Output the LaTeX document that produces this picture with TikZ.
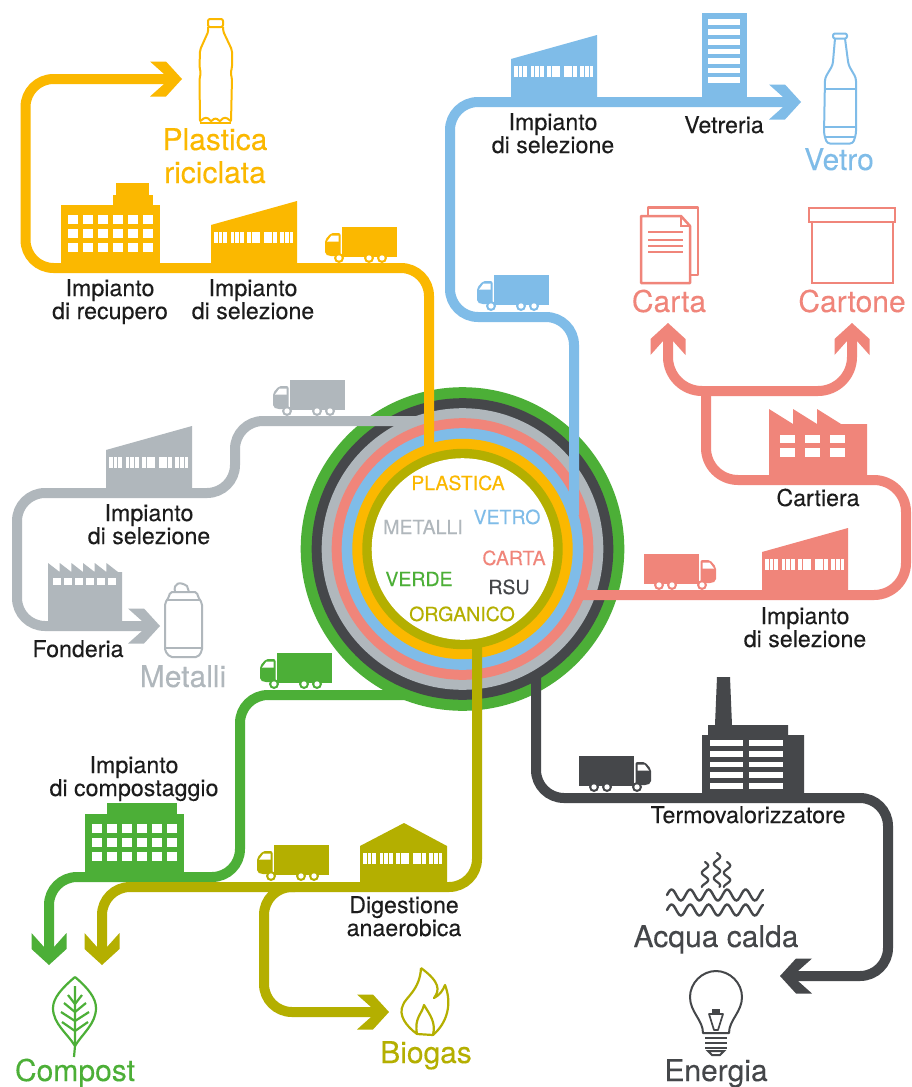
\documentclass[tikz,border=0pt]{standalone}
\usepackage{fontspec}
\setmainfont{TeX Gyre Heros}[FakeBold=0.15]
\usetikzlibrary{arrows.meta}
\definecolor{cyel}{HTML}{FBB800}
\definecolor{cblu}{HTML}{7FBCE8}
\definecolor{csal}{HTML}{F0857A}
\definecolor{cgra}{HTML}{B0B7BC}
\definecolor{cdar}{HTML}{45474A}
\definecolor{cgre}{HTML}{4CAF37}
\definecolor{coli}{HTML}{B4AF00}
\definecolor{ctxt}{HTML}{1C1C1C}
\pgfdeclarearrow{
  name=Chevron,
  setup code={\pgfarrowssettipend{0pt}\pgfarrowssetlineend{-16pt}\pgfarrowssetvisualbackend{-32pt}\pgfarrowssetbackend{-32pt}},
  drawing code={%
    \pgfpathmoveto{\pgfqpoint{0pt}{0pt}}%
    \pgfpathlineto{\pgfqpoint{-16pt}{17.5pt}}%
    \pgfpathlineto{\pgfqpoint{-32pt}{17.5pt}}%
    \pgfpathlineto{\pgfqpoint{-18pt}{5pt}}%
    \pgfpathlineto{\pgfqpoint{-18pt}{-5pt}}%
    \pgfpathlineto{\pgfqpoint{-32pt}{-17.5pt}}%
    \pgfpathlineto{\pgfqpoint{-16pt}{-17.5pt}}%
    \pgfpathclose\pgfusepathqfill}
}
\tikzset{
  flow/.style={line width=10pt, rounded corners=28pt},
  lab/.style={font=\fontsize{23.2}{21}\selectfont, text=ctxt, align=center, anchor=base, inner sep=0pt},
  big/.style={font=\fontsize{30}{33}\selectfont, align=center, anchor=base, inner sep=0pt},
  tag/.style={font=\fontsize{19.5}{20}\selectfont, anchor=base, inner sep=0pt},
  icon/.style={line width=2pt, line join=round, rounded corners=2pt},
  pics/truck/.style={code={
    \fill (17,-30) rectangle (72,-2);
    \fill (13,-2) rectangle (72,-0.4);
    \fill[rounded corners=2pt] (15.5,-24) -- (6,-24) -- (0,-17) -- (0,-3) -- (4,-1) -- (15.5,-1) -- cycle;
    \fill[white] (13.5,-21.5) -- (6.5,-21.5) -- (2,-15.5) -- (13.5,-15.5) -- cycle;
    \foreach \w in {14,44,57}{
      \fill (\w,1) circle (5pt);
      \fill[white] (\w,1) circle (2.7pt);
    }
  }},
  pics/shedwin/.style={code={
    \foreach \g in {0,1,2,3,4}{
      \foreach \b in {0,4.6,9.2}{
        \fill[white] ({3+16.6*\g+\b},-36) rectangle ({3+16.6*\g+\b+3.8},-25);
      }
    }
  }},
  pics/shed/.style={code={
    \fill (0,0) -- (0,-43) -- (86,-67) -- (86,0) -- cycle;
    \pic at (0,0) {shedwin};
  }},
  pics/gable/.style={code={
    \fill (0,0) -- (0,-41) -- (44,-64) -- (87,-41) -- (87,0) -- cycle;
    \pic at (0,2) {shedwin};
  }},
  pics/block/.style n args={5}{code={
    \fill (0,0) rectangle (99,-63.5);
    \fill (#1,-63) rectangle (#2,-73);
    \fill (#3,-72) rectangle (#4,-#5);
    \foreach \c in {7,22,37,52,66.7,81.5}{
      \foreach \r in {53.5,39.2,25}{
        \fill[white] (\c,-\r) rectangle (\c+10,{-\r+9.2});
      }
    }
  }},
}
\begin{document}
\begin{tikzpicture}[x=1pt,y=-1pt]
\useasboundingbox (0,0) rectangle (911,1087);
\fill[white] (0,0) rectangle (911,1087);
% hub rings
\coordinate (hub) at (462.5,549);
\fill[cgre] (hub) circle (161.8pt);
\fill[cdar] (hub) circle (150.8pt);
\fill[cgra] (hub) circle (140.8pt);
\fill[csal] (hub) circle (130.8pt);
\fill[cblu] (hub) circle (120.8pt);
\fill[cyel] (hub) circle (110.2pt);
\fill[coli] (hub) circle (100.2pt);
\fill[white] (hub) circle (90.8pt);
% connector way-points
\coordinate (y0) at (429,446); \coordinate (y1) at (429,268); \coordinate (y2) at (25.5,268); \coordinate (y3) at (25.5,79); \coordinate (y4) at (182,79);
\coordinate (b0) at (574,515); \coordinate (b1) at (574,317); \coordinate (b2) at (450,317); \coordinate (b3) at (450,102); \coordinate (b4) at (801,102);
\coordinate (g0) at (417,421); \coordinate (g1) at (235,421); \coordinate (g2) at (235,493); \coordinate (g3) at (17,493); \coordinate (g4) at (17,626); \coordinate (g5) at (160,626);
\coordinate (s0) at (580,595); \coordinate (s1) at (906,595); \coordinate (s2) at (906,480); \coordinate (s3) at (706,480); \coordinate (s4) at (706,391);
\coordinate (s5) at (668,391); \coordinate (s6) at (668,323); \coordinate (s7) at (852,391); \coordinate (s8) at (852,323);
\coordinate (d0) at (536,675); \coordinate (d1) at (536,798); \coordinate (d2) at (888,798); \coordinate (d3) at (888,976); \coordinate (d4) at (780,976);
\coordinate (v0) at (408,695); \coordinate (v1) at (240,695); \coordinate (v2) at (240,877); \coordinate (v3) at (49,877); \coordinate (v4) at (49,965);
\coordinate (o0) at (477,643); \coordinate (o1) at (477,887); \coordinate (o2) at (102,887); \coordinate (o3) at (102,965);
\coordinate (o4) at (295,887); \coordinate (o5) at (264,887); \coordinate (o6) at (264,1012); \coordinate (o7) at (389,1012);
% connectors
\draw[flow,cdar,-{Chevron}] (d0) -- (d1) -- (d2) -- (d3) -- (d4);
\draw[flow,cgre,-{Chevron}] (v0) -- (v1) -- (v2) -- (v3) -- (v4);
\draw[flow,coli,-{Chevron}] (o0) -- (o1) -- (o2) -- (o3);
\draw[flow,coli,-{Chevron}] (o4) -- (o5) -- (o6) -- (o7);
\draw[flow,cgra,-{Chevron}] (g0) -- (g1) -- (g2) -- (g3) -- (g4) -- (g5);
\draw[flow,csal,rounded corners=32pt] (s0) -- (s1) -- (s2) -- (s3) -- (s4);
\draw[flow,csal,rounded corners=34pt,-{Chevron}] (s4) -- (s5) -- (s6);
\draw[flow,csal,rounded corners=34pt,-{Chevron}] (s4) -- (s7) -- (s8);
\draw[flow,cblu,-{Chevron}] (b0) -- (b1) -- (b2) -- (b3) -- (b4);
\draw[flow,cyel,-{Chevron}] (y0) -- (y1) -- (y2) -- (y3) -- (y4);
% trucks
\pic[color=cyel] at (325,257) {truck};
\pic[color=cblu] at (477,305) {truck};
\pic[color=cgra] at (273,410) {truck};
\pic[color=cgre] at (260,683) {truck};
\pic[color=coli] at (257,875) {truck};
\pic[color=csal,xscale=-1] at (716,584) {truck};
\pic[color=cdar,xscale=-1] at (651,786) {truck};
% plants
\pic[color=cyel] at (61,268) {block={52}{92}{55}{88}{85}};
\pic[color=cyel] at (211,268) {shed};
\pic[color=cblu] at (511,102) {shed};
\pic[color=cgra] at (106,493) {shed};
\pic[color=csal] at (762,595) {shed};
\pic[color=coli] at (360,887) {gable};
\pic[color=cgre] at (85,877) {block={22}{92}{22}{92}{74}};
% vetreria
\fill[cblu] (702,13) rectangle (747,102);
\foreach \t/\u in {19.3/25,29/35,39/44.5,48.7/54,58.3/64,67.7/73,77.3/83}{\fill[white] (708,\t) rectangle (740,\u);}
% fonderia
\fill[cgra] (48,626) -- (48,563) -- (59.7,572) -- (59.7,563) -- (71.4,572) -- (71.4,563) -- (83,572) -- (83,563) -- (94.7,572) -- (94.7,563) -- (106.4,572) -- (106.4,563) -- (118,572) -- (122,572) -- (122,626) -- cycle;
\foreach \t in {53,64,75,86,97,108}{\fill[white] (\t,578) rectangle (\t+8,585);}
% cartiera
\fill[csal] (769,480) -- (769,409) -- (793,424) -- (793,409) -- (817,424) -- (817,409) -- (841,424) -- (867,424) -- (867,480) -- cycle;
\foreach \t in {780,805,830}{\fill[white] (\t,435) rectangle (\t+15,443); \fill[white] (\t,448) rectangle (\t+15,457);}
% termovalorizzatore
\fill[cdar] (702,798) -- (702,735) -- (708,735) -- (708,725) -- (715,725) -- (717,677) -- (730,677) -- (732,725) -- (788,725) -- (788,735) -- (804,735) -- (804,798) -- cycle;
\foreach \t/\u in {740/746,751/757,762/767,772/778,783/789}{\fill[white] (710,\t) rectangle (743,\u); \fill[white] (749,\t) rectangle (783,\u);}
% plastic bottle
\draw[icon,cyel] (208,19) rectangle (223,27);
\draw[icon,cyel] (208,27) -- (208.5,31) -- (200,50) -- (199.5,68) -- (201,73) -- (199.5,78) -- (200,122) .. controls (204,117) and (208,117) .. (211,122) .. controls (214,118) and (217,118) .. (220,122) .. controls (223,117) and (227,117) .. (231,122) -- (232,78) -- (230.5,73) -- (232,68) -- (232,50) -- (223,31) -- (223,27);
\draw[cyel,line width=2pt] (200,122.5) -- (231,122.5);
% glass bottle
\draw[icon,cblu] (833,33.5) rectangle (847,38.5);
\draw[icon,cblu,rounded corners=3pt] (835,38.5) -- (832.7,65) -- (825,78) -- (824,134) -- (827,143.5) -- (853,143.5) -- (856,134) -- (856,78) -- (848.5,65) -- (845,38.5);
\draw[cblu,line width=2pt] (824,89) -- (856,89) (824,127) -- (856,127) (825,137) -- (855,137);
% paper
\draw[icon,csal,line width=2.5pt,rounded corners=0pt] (648,215) -- (648,207.5) -- (698,207.5) -- (698,275) -- (690,275);
\draw[icon,csal,line width=2.5pt,rounded corners=0pt] (641,216) -- (681,216) -- (690,226) -- (690,283) -- (641,283) -- cycle;
\draw[csal,line width=2.5pt] (681,216) -- (681,226) -- (690,226);
\draw[csal,line width=2.4pt] (648,232) -- (683,232) (648,240) -- (683,240) (648,246) -- (683,246) (648,252) -- (683,252);
% box
\draw[csal,line width=2.6pt] (809,208) rectangle (895,222);
\draw[csal,line width=2.6pt] (812,222) -- (812,283) -- (893,283) -- (893,222);
% can
\draw[icon,cgra] (170,592) -- (197,592) -- (198,597) -- (202,603) -- (202,651) -- (198,657) -- (170,657) -- (165,651) -- (165,603) -- (169,597) -- cycle;
\draw[cgra,line width=2pt] (166,600) -- (201,600) (166,648) -- (201,648);
\draw[cgra,line width=2pt] (175,592) .. controls (173,583) and (180,581) .. (187,586) -- (189,592);
% leaf
\draw[cgre,line width=2.2pt] (75,977) .. controls (62,988) and (53,998) .. (53,1008) .. controls (53,1024) and (68,1034) .. (75,1046) .. controls (82,1034) and (96,1024) .. (96,1008) .. controls (96,998) and (88,988) .. (75,977);
\draw[cgre,line width=2.2pt] (75,986) -- (75,1046) -- (74,1057);
\foreach \q/\h in {995/7,1003/11,1012/14,1022/13}{\draw[cgre,line width=2.2pt] (75-\h,\q) -- (75,\q+9) -- (75+\h,\q);}
% flame
\draw[coli,line width=2.2pt,line join=round] (421,968) .. controls (440,982) and (440,990) .. (434,998) .. controls (440,995) and (443,990) .. (445,985) .. controls (452,1003) and (448,1022) .. (433,1035) .. controls (436,1022) and (430,1015) .. (424,1005) .. controls (422,1014) and (414,1018) .. (417,1034) .. controls (406,1026) and (398,1015) .. (403,1005) .. controls (405,998) and (420,990) .. (421,968);
\draw[coli,line width=2.2pt,line join=round] (417,1034) -- (433,1035);
% steam and waves
\foreach \sx/\sy in {705/862,717/853,727/862}{
  \draw[cdar,line width=2.2pt,line cap=round] plot[smooth,domain=\sy:887,samples=30] ({\sx+3.2*sin((\x-\sy)*25)},\x);
}
\foreach \wy in {895,910}{
  \draw[cdar,line width=2.4pt,line cap=round] plot[smooth,domain=0:96,samples=70] ({667+\x},{\wy+5.5*sin(\x*19.46+180)});
}
% bulb
\draw[cdar,line width=2pt,line join=round] (703,1033) .. controls (703,1020) and (690,1012) .. (690,997) .. controls (690,983) and (702,971) .. (716,971) .. controls (730,971) and (742,983) .. (742,997) .. controls (742,1012) and (729,1020) .. (729,1033) -- cycle;
\draw[cdar,line width=2pt] (705,1038) -- (727,1038) (705,1043) -- (727,1043) (705,1048) -- (727,1048);
\draw[cdar,line width=2pt] (708,1051) -- (724,1051) -- (720,1055) -- (712,1055) -- cycle;
\draw[cdar,line width=1.7pt,line join=round] (709,1014) -- (723,1014) -- (718,1030) -- (714,1030) -- cycle;
\fill[cdar] (712,1009) rectangle (720,1014);
% labels on the plants (a two-line node sits on its last baseline)
\node[lab] (lrec) at (110,319) {Impianto\\di recupero};
\node[lab] (lsely) at (253,319) {Impianto\\di selezione};
\node[lab] (lselb) at (553,153) {Impianto\\di selezione};
\node[lab] (lvet) at (724,133) {Vetreria};
\node[lab] (lcar) at (818,506) {Cartiera};
\node[lab] (lsels) at (805,647) {Impianto\\di selezione};
\node[lab] (lselg) at (149,544) {Impianto\\di selezione};
\node[lab] (lfon) at (78,657) {Fonderia};
\node[lab] (lcom) at (134,796) {Impianto\\di compostaggio};
\node[lab] (ldig) at (404,936) {Digestione\\anaerobica};
\node[lab] (lter) at (748,823) {Termovalorizzatore};
% products
\node[big,text=cyel] (pplas) at (215,183) {Plastica\\riciclata};
\node[big,text=cblu] (pvet) at (839,170) {Vetro};
\node[big,text=csal] (pcrt) at (669,312) {Carta};
\node[big,text=csal] (pcrn) at (852,312) {Cartone};
\node[big,text=cgra] (pmet) at (183,687) {Metalli};
\node[big,text=cgre] (pcom) at (75,1081) {Compost};
\node[big,text=coli] (pbio) at (426,1063) {Biogas};
\node[big,text=cdar] (pacq) at (716,947) {Acqua calda};
\node[big,text=cdar] (pene) at (716,1081) {Energia};
% hub tags
\node[tag,text=cyel] (tpla) at (458,490) {PLASTICA};
\node[tag,text=cblu] (tvet) at (507,524) {VETRO};
\node[tag,text=cgra] (tmet) at (423,534) {METALLI};
\node[tag,text=csal] (tcar) at (514,565) {CARTA};
\node[tag,text=cgre] (tver) at (419,586) {VERDE};
\node[tag,text=cdar] (trsu) at (509,594) {RSU};
\node[tag,text=coli] (torg) at (462,621) {ORGANICO};
\end{tikzpicture}
\end{document}
